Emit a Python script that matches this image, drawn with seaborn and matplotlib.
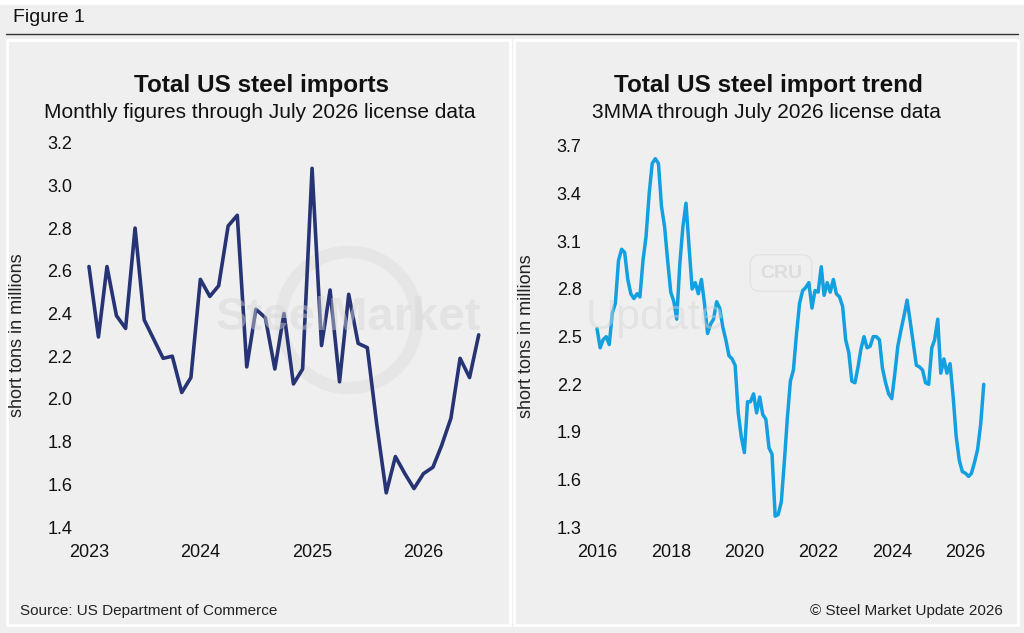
import numpy as np
import pandas as pd
import matplotlib
matplotlib.use("Agg")
import matplotlib.pyplot as plt
import matplotlib.dates as mdates
from matplotlib.patches import Rectangle, Circle
from matplotlib.lines import Line2D
import seaborn as sns

sns.set_style("white")
plt.rcParams['font.family'] = ['Liberation Sans', 'DejaVu Sans']

# monthly imports, Jan 2023 - Jul 2026 (million short tons)
monthly_imports = [2.62, 2.29, 2.62, 2.39, 2.33, 2.80, 2.37, 2.28, 2.19, 2.20, 2.03, 2.10,
                   2.56, 2.48, 2.53, 2.81, 2.86, 2.15, 2.42, 2.38, 2.14, 2.40, 2.07, 2.14,
                   3.08, 2.25, 2.51, 2.08, 2.49, 2.26, 2.24, 1.88, 1.56, 1.73, 1.65, 1.58,
                   1.65, 1.68, 1.78, 1.91, 2.19, 2.10, 2.30]
monthly_start = "2023-01-01"

# 3MMA, Jan 2016 - Jul 2026
trend_3mma = [2.55, 2.43, 2.48, 2.50, 2.45, 2.65, 2.71, 2.98, 3.05, 3.03, 2.86, 2.77,
              2.74, 2.77, 2.75, 2.98, 3.13, 3.40, 3.59, 3.62, 3.59, 3.32, 3.19, 2.98,
              2.78, 2.72, 2.61, 2.96, 3.19, 3.34, 3.07, 2.80, 2.84, 2.77, 2.86, 2.71,
              2.52, 2.58, 2.61, 2.72, 2.68, 2.56, 2.48, 2.38, 2.36, 2.32, 2.02, 1.87,
              1.77, 2.09, 2.09, 2.14, 2.02, 2.12, 2.01, 1.98, 1.80, 1.76, 1.37, 1.38,
              1.46, 1.72, 1.98, 2.22, 2.29, 2.52, 2.71, 2.79, 2.81, 2.84, 2.68, 2.79,
              2.78, 2.94, 2.76, 2.84, 2.78, 2.86, 2.77, 2.75, 2.69, 2.48, 2.40, 2.22,
              2.21, 2.31, 2.42, 2.50, 2.43, 2.44, 2.50, 2.50, 2.48, 2.30, 2.21, 2.14,
              2.11, 2.27, 2.44, 2.54, 2.63, 2.73, 2.60, 2.46, 2.32, 2.31, 2.29, 2.21,
              2.20, 2.43, 2.48, 2.61, 2.27, 2.36, 2.27, 2.33, 2.12, 1.87, 1.72, 1.65,
              1.64, 1.62, 1.64, 1.71, 1.79, 1.95, 2.20]
trend_start = "2016-01-01"

left_yticks = [1.4, 1.6, 1.8, 2.0, 2.2, 2.4, 2.6, 2.8, 3.0, 3.2]
right_yticks = [1.3, 1.6, 1.9, 2.2, 2.5, 2.8, 3.1, 3.4, 3.7]
left_xyears = [2023, 2024, 2025, 2026]
right_xyears = [2016, 2018, 2020, 2022, 2024, 2026]

df_left = pd.DataFrame({"date": pd.date_range(monthly_start, periods=len(monthly_imports), freq="MS"),
                        "value": monthly_imports})
df_right = pd.DataFrame({"date": pd.date_range(trend_start, periods=len(trend_3mma), freq="MS"),
                         "value": trend_3mma})

BG = "#efefef"
W, H = 1024, 633
fig = plt.figure(figsize=(W / 100, H / 100), dpi=100, facecolor="white")


def fx(px):
    return px / W


def fy(py):
    return 1 - py / H


fig.patches.append(Rectangle((0, 0), 1, fy(5), transform=fig.transFigure,
                             facecolor=BG, edgecolor="none", zorder=-3))
for x0, x1 in [(7, 510), (514, 1018)]:
    fig.patches.append(Rectangle((fx(x0), fy(625)), fx(x1 - x0), (625 - 40) / H,
                                 transform=fig.transFigure, facecolor=BG,
                                 edgecolor="white", lw=2, zorder=-2))
fig.lines.append(Line2D([fx(6), fx(1018)], [fy(34), fy(34)], transform=fig.transFigure,
                        color="#333333", lw=1))
fig.text(fx(13), fy(18), "Figure 1", fontsize=14, va="center", ha="left", color="#111111")

# faint watermark (logo ring + wordmark + CRU badge)
fig.patches.append(Circle((349, H - 320), 68, transform=None, fc="none",
                          ec="#e6e6e6", lw=9, zorder=-1))
wm = dict(color="#d6d6d6", alpha=0.45, va="center", ha="left", zorder=5)
fig.text(fx(216), fy(318), "SteelMarket", fontsize=34, fontweight="bold", **wm)
fig.text(fx(586), fy(318), "Update", fontsize=31, **wm)
fig.text(fx(781), fy(273), "CRU", fontsize=14, fontweight="bold", color="#dddddd",
         va="center", ha="center", zorder=-1,
         bbox=dict(boxstyle="round,pad=0.5", fc="none", ec="#e3e3e3", lw=1))

ax1 = fig.add_axes([fx(85), fy(527), fx(405), (527 - 142.7) / H])
ax2 = fig.add_axes([fx(594), fy(527.3), fx(396), (527.3 - 146) / H])

sns.lineplot(data=df_left, x="date", y="value", ax=ax1, color="#263475", lw=2.6)
sns.lineplot(data=df_right, x="date", y="value", ax=ax2, color="#12a0e0", lw=2.5)

for ax, yt, yrs, xl in [
        (ax1, left_yticks, left_xyears, ("2022-12-19", "2026-08-07")),
        (ax2, right_yticks, right_xyears, ("2015-12-02", "2026-09-01"))]:
    ax.patch.set_alpha(0)
    ax.set_ylim(yt[0], yt[-1])
    ax.set_yticks(yt)
    ax.set_yticklabels([f"{v:.1f}" for v in yt])
    ax.set_xlim(pd.Timestamp(xl[0]), pd.Timestamp(xl[1]))
    ax.set_xticks([pd.Timestamp(f"{y}-01-01") for y in yrs])
    ax.xaxis.set_major_formatter(mdates.DateFormatter("%Y"))
    ax.tick_params(axis="both", length=0, labelsize=13, colors="#111111")
    ax.tick_params(axis="y", pad=9)
    ax.tick_params(axis="x", pad=12)
    ax.set_xlabel("")
    ax.set_ylabel("short tons in millions", fontsize=13, color="#222222")
    sns.despine(ax=ax, left=True, bottom=True)
    ax.grid(False)

ax1.yaxis.set_label_coords((26 - 85) / 405, 0.5)
ax2.yaxis.set_label_coords((535 - 594) / 396, 0.5)

fig.text(fx(262), fy(92), "Total US steel imports", fontsize=17.5, fontweight="bold",
         ha="center", va="baseline", color="#111111")
fig.text(fx(260), fy(118), "Monthly figures through July 2026 license data", fontsize=15,
         ha="center", va="baseline", color="#111111")
fig.text(fx(768), fy(92), "Total US steel import trend", fontsize=17.5, fontweight="bold",
         ha="center", va="baseline", color="#111111")
fig.text(fx(766), fy(118), "3MMA through July 2026 license data", fontsize=15,
         ha="center", va="baseline", color="#111111")

fig.text(fx(20), fy(611), "Source: US Department of Commerce", fontsize=11,
         ha="left", va="center", color="#222222")
fig.text(fx(1003), fy(611), "\u00a9 Steel Market Update 2026", fontsize=11,
         ha="right", va="center", color="#222222")

fig.savefig("out.png", dpi=100, facecolor=fig.get_facecolor())
